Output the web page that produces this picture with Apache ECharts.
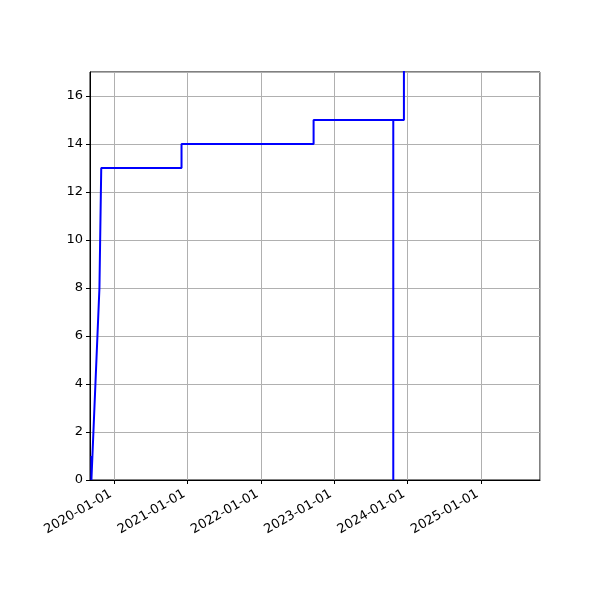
<!DOCTYPE html>
<html>
<head>
<meta charset="utf-8">
<script src="https://cdn.jsdelivr.net/npm/echarts@6/dist/echarts.min.js"></script>
<style>
  html, body { margin: 0; padding: 0; background: #fff; }
  #main { width: 600px; height: 600px; }
</style>
</head>
<body>
<div id="main"></div>
<script>
// cumulative count, one entry per vertex of the line
var dates = ['2019-09-09', '2019-09-09', '2019-09-09', '2019-10-19', '2019-10-24', '2019-10-28',
             '2020-12-01', '2020-12-01', '2022-09-20', '2022-09-20', '2023-10-22', '2023-10-22',
             '2023-10-22', '2023-12-14', '2023-12-14'];
var counts = [0, 1, 0, 8, 8, 13,
              13, 14, 14, 15, 15, 0,
              15, 15, 18];

var xMin = '2019-09-02';
var xMax = '2025-10-22';
var yTicks = [0, 2, 4, 6, 8, 10, 12, 14, 16];

var DAY = 86400000;

function pad(n) { return (n < 10 ? '0' : '') + n; }

var chart = echarts.init(document.getElementById('main'));

var option = {
    backgroundColor: '#fff',
    animation: false,
    textStyle: { fontFamily: 'DejaVu Sans' },
    grid: {
        left: 90,
        right: 60,
        top: 72,
        bottom: 120,
        show: true,
        borderColor: '#000',
        borderWidth: 1,
        containLabel: false
    },
    xAxis: {
        type: 'time',
        min: xMin,
        max: xMax,
        minInterval: 365 * DAY,
        maxInterval: 366 * DAY,
        axisLine: { show: true, lineStyle: { color: '#000', width: 1 } },
        axisTick: { show: true, length: 4, lineStyle: { color: '#000' } },
        splitLine: { show: true, lineStyle: { color: '#b0b0b0', width: 1 } },
        axisLabel: {
            rotate: 30,
            color: '#000',
            fontSize: 13,
            margin: 11,
            padding: [0, 4, 0, 0],
            showMinLabel: false,
            showMaxLabel: false,
            formatter: function (v) {
                var d = new Date(v);
                return d.getFullYear() + '-' + pad(d.getMonth() + 1) + '-' + pad(d.getDate());
            }
        }
    },
    yAxis: {
        type: 'value',
        min: 0,
        max: 17,
        interval: yTicks[1] - yTicks[0],
        axisLine: { show: true, lineStyle: { color: '#000', width: 1 } },
        axisTick: { show: true, length: 4, lineStyle: { color: '#000' } },
        splitLine: { show: true, lineStyle: { color: '#b0b0b0', width: 1 } },
        axisLabel: {
            color: '#000',
            fontSize: 13,
            margin: 7,
            showMaxLabel: false,
            formatter: function (v) { return yTicks.indexOf(v) >= 0 ? String(v) : ''; }
        }
    },
    series: [
        {
            type: 'line',
            data: dates.map(function (d, i) { return [d, counts[i]]; }),
            showSymbol: false,
            clip: true,
            lineStyle: { color: '#0000ff', width: 2 }
        }
    ]
};

chart.setOption(option);
</script>
</body>
</html>
